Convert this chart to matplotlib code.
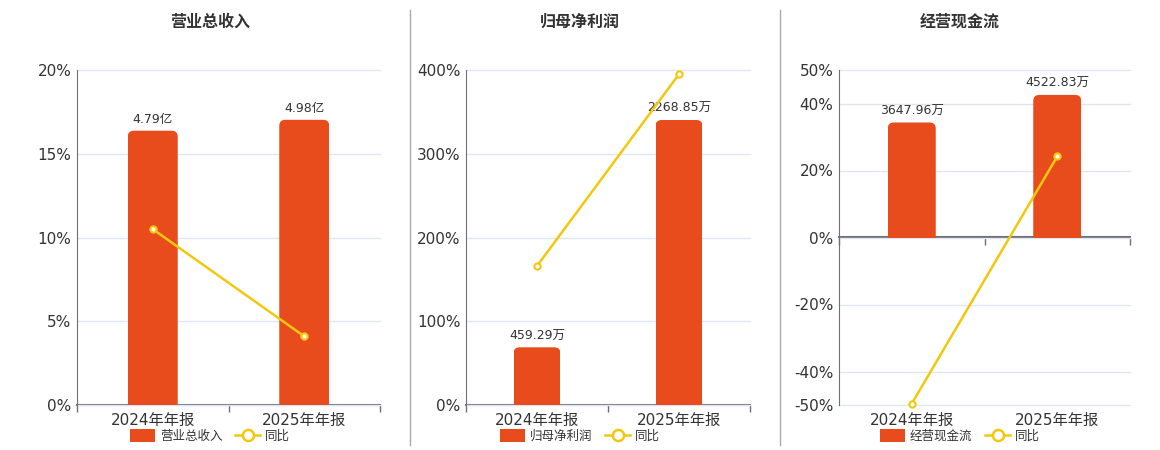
import matplotlib
matplotlib.use("Agg")
import matplotlib.pyplot as plt
from matplotlib.patches import FancyBboxPatch, Rectangle, Patch
from matplotlib.lines import Line2D

plt.rcParams['font.family'] = ['DejaVu Sans', 'Noto Sans CJK SC']

# data
categories = ['2024年年报', '2025年年报']
titles = ['营业总收入', '归母净利润', '经营现金流']

revenue = [4.79, 4.98]
revenue_labels = ['4.79亿', '4.98亿']
revenue_yoy = [10.5, 4.1]

profit = [459.29, 2268.85]
profit_labels = ['459.29万', '2268.85万']
profit_yoy = [166, 395]

cashflow = [3647.96, 4522.83]
cashflow_labels = ['3647.96万', '4522.83万']
cashflow_yoy = [-49.6, 24.2]

pct_ticks = [
    [0, 5, 10, 15, 20],
    [0, 100, 200, 300, 400],
    [-50, -40, -20, 0, 20, 40, 50],
]
bar_limits = [(0, 5.85), (0, 2667), (-5313, 5313)]

BAR = '#E84C1C'
LINE = '#F2C80F'
GRID = '#E0E6F1'
AXIS = '#6E7079'
TEXT = '#333333'

W, H = 1160, 450
fig = plt.figure(figsize=(W / 100, H / 100), dpi=100)

panels = [(77, 380, 210), (466, 750, 580), (839, 1130, 960)]
top_px, bot_px = 70, 405


def draw_panel(i, values, labels, yoy):
    x0, x1, cx = panels[i]
    rect = [x0 / W, 1 - bot_px / H, (x1 - x0) / W, (bot_px - top_px) / H]
    ax = fig.add_axes(rect)
    ticks = pct_ticks[i]
    ax.set_ylim(min(ticks), max(ticks))
    ax.set_xlim(-0.5, 1.5)
    ax.set_yticks(ticks)
    ax.set_yticklabels([f'{t}%' for t in ticks], fontsize=11, color=TEXT)
    ax.tick_params(axis='y', length=0, pad=4)
    ax.yaxis.grid(True, color=GRID, linewidth=1)
    for gl in ax.get_ygridlines():
        gl.set_clip_on(False)
    ax.set_axisbelow(True)
    for s in ['top', 'right']:
        ax.spines[s].set_visible(False)
    ax.spines['left'].set_color(AXIS)
    ax.set_xticks(range(len(categories)))
    ax.set_xticklabels(categories, fontsize=11, color=TEXT)
    ax.tick_params(axis='x', which='major', length=0, pad=6)

    zero_frac = (0 - min(ticks)) / (max(ticks) - min(ticks))
    ax.spines['bottom'].set_visible(False)
    sec = ax.secondary_xaxis(zero_frac)
    sec.xaxis.set_ticks_position('bottom')
    sec.set_xticks([-0.5, 0.5, 1.5])
    sec.set_xticklabels([])
    sec.tick_params(length=5, color=AXIS, width=1, direction='out')
    for s in sec.spines.values():
        s.set_color(AXIS)
        s.set_linewidth(1.5)

    # bars on hidden axis
    axb = ax.twinx()
    axb.set_ylim(*bar_limits[i])
    axb.axis('off')
    axw = (x1 - x0)
    axh = (bot_px - top_px)
    xpp = 2.0 / axw
    ypp = (bar_limits[i][1] - bar_limits[i][0]) / axh
    r = 6
    bw = 0.33
    for k, v in enumerate(values):
        p = FancyBboxPatch((k - bw / 2, -r * ypp), bw, v + r * ypp,
                           boxstyle=f"round,pad=0,rounding_size={r * xpp}",
                           mutation_aspect=ypp / xpp,
                           facecolor=BAR, edgecolor='none')
        axb.add_patch(p)
        clip = Rectangle((k - bw / 2, 0), bw, v * 1.1, transform=axb.transData)
        p.set_clip_path(clip)
        axb.annotate(labels[k], (k, v), xytext=(0, 3.5), textcoords='offset points',
                     ha='center', va='bottom', fontsize=9, color=TEXT)

    # yoy line on top
    axl = ax.twinx()
    axl.set_ylim(min(ticks), max(ticks))
    axl.axis('off')
    axl.plot(range(len(yoy)), yoy, color=LINE, linewidth=1.8, marker='o',
             markersize=4.5, markerfacecolor='white', markeredgecolor=LINE,
             markeredgewidth=1.5, clip_on=False)

    fig.text(cx / W, 1 - 22 / H, titles[i], ha='center', va='center',
             fontsize=11.5, fontweight='bold', color=TEXT)
    handles = [Patch(facecolor=BAR, edgecolor='none'),
               Line2D([], [], color=LINE, linewidth=1.8, marker='o', markersize=8,
                      markerfacecolor='white', markeredgecolor=LINE, markeredgewidth=1.8)]
    fig.legend(handles, [titles[i], '同比'], loc='center', bbox_to_anchor=(cx / W, 1 - 436 / H),
               ncol=2, frameon=False, fontsize=9, handlelength=2.0, handleheight=1.2,
               columnspacing=1.0, handletextpad=0.4, labelcolor=TEXT)


draw_panel(0, revenue, revenue_labels, revenue_yoy)
draw_panel(1, profit, profit_labels, profit_yoy)
draw_panel(2, cashflow, cashflow_labels, cashflow_yoy)

for xs in (410, 780):
    fig.add_artist(Line2D([xs / W, xs / W], [1 - 10 / H, 1 - 445 / H],
                          color='#AAAAAA', linewidth=1))

fig.savefig('out.png', dpi=100)
